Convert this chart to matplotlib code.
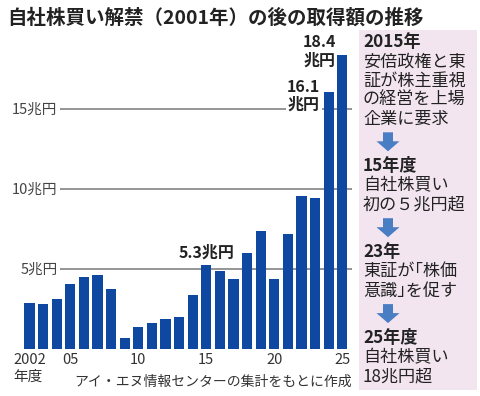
import matplotlib
matplotlib.use("Agg")
import matplotlib.pyplot as plt
from matplotlib.patches import Rectangle, Polygon

plt.rcParams['font.family'] = ['Noto Sans CJK JP', 'DejaVu Sans']

# data (兆円, fiscal years)
years = list(range(2002, 2026))
values = [2.88, 2.83, 3.13, 4.06, 4.54, 4.64, 3.75, 0.72, 1.37, 1.64, 1.88, 2.0,
          3.39, 5.3, 4.89, 4.41, 6.02, 7.39, 4.38, 7.22, 9.6, 9.44, 16.1, 18.4]
yticks = [5, 10, 15]
xticks = [2002, 2005, 2010, 2015, 2020, 2025]
xtick_labels = ['2002', '05', '10', '15', '20', '25']

title = '自社株買い解禁（2001年）の後の取得額の推移'
source = 'アイ・エヌ情報センターの集計をもとに作成'
notes = [
    ['2015年', '安倍政権と東', '証が株主重視', 'の経営を上場', '企業に要求'],
    ['15年度', '自社株買い', '初の５兆円超'],
    ['23年', '東証が｢株価', '意識｣を促す'],
    ['25年度', '自社株買い', '18兆円超'],
]

W, H = 480, 396
fig = plt.figure(figsize=(W / 100, H / 100), dpi=100)

def fx(px):
    return px / W

def fy(py):
    return 1 - py / H

bar_color = '#0f48a0'
grid_color = '#8c8c8c'
txt = '#222222'

# axes placed so that bar 2002 sits at px 29.5, step 13.6 px
step = 13.6
x0 = 29.5
ax = fig.add_axes([0, fy(349.3), fx(352), (349.3 - 30) / H])
ax.set_xlim(2002 - x0 / step, 2002 + (352 - x0) / step)
ax.set_ylim(0, (349.3 - 30) / 16)

def px2x(px):
    return 2002 + (px - x0) / step

ax.hlines(yticks, px2x(60), ax.get_xlim()[1], color=grid_color, lw=1.3, zorder=1)
for t in yticks:
    ax.text(px2x(57.5), t, f'{t}兆円', ha='right', va='center', fontsize=10.5,
            color='#444444')

ax.bar(years, values, width=0.74, color=bar_color, zorder=2)

for s in ax.spines.values():
    s.set_visible(False)
ax.set_yticks([])
ax.set_xticks(xticks)
ax.set_xticklabels(xtick_labels, fontsize=10.5, color='#333333')
ax.tick_params(axis='x', length=0, pad=3)

# value labels
lab_kw = dict(fontsize=11.5, fontweight='bold', color=txt, zorder=3)
i15 = years.index(2015)
ax.text(2015, values[i15] + 0.72, f'{values[i15]}兆円', ha='center', va='center', **lab_kw)

bb = dict(facecolor='white', edgecolor='none', pad=1.5)
i24 = years.index(2024)
ax.text(px2x(320), values[i24] + 0.3, f'{values[i24]}', ha='right', va='center', bbox=bb, **lab_kw)
ax.text(px2x(320), values[i24] - 0.83, '兆円', ha='right', va='center', bbox=bb, **lab_kw)
i25 = years.index(2025)
ax.text(px2x(336), values[i25] + 0.8, f'{values[i25]}', ha='right', va='center', **lab_kw)
ax.text(px2x(336), values[i25] - 0.35, '兆円', ha='right', va='center', **lab_kw)

# title, unit, source
fig.text(fx(7), fy(17.5), title, fontsize=14, fontweight='bold', color=txt,
         ha='left', va='center')
fig.text(fx(13), fy(377), '年度', fontsize=10.5, color='#333333', ha='left', va='center')
fig.text(fx(352), fy(381.5), source, fontsize=10, color='#333333', ha='right', va='center')

# right note panel
fig.patches.append(Rectangle((fx(359), fy(390)), fx(477) - fx(359), (390 - 30) / H,
                             transform=fig.transFigure, facecolor='#f2e5f0',
                             edgecolor='none', zorder=0))

arrow_color = '#4a7ec4'

def down_arrow(cx, cy):
    hw, sw, hl, h = 11.5, 5, 10, 19
    top, bot = cy - h / 2, cy + h / 2
    pts = [(cx - sw, top), (cx + sw, top), (cx + sw, bot - hl), (cx + hw, bot - hl),
           (cx, bot), (cx - hw, bot - hl), (cx - sw, bot - hl)]
    fig.patches.append(Polygon([(fx(a), fy(b)) for a, b in pts], closed=True,
                               transform=fig.transFigure, facecolor=arrow_color,
                               edgecolor='none', zorder=1))

y = 42
line_step = 19.2
for gi, group in enumerate(notes):
    for li, line in enumerate(group):
        fig.text(fx(363), fy(y), line, fontsize=12.3, color=txt, ha='left', va='center',
                 fontweight='bold' if li == 0 else 'normal')
        y += line_step
    if gi < len(notes) - 1:
        down_arrow(388, y - line_step + 23)
        y += 47.5 - line_step

fig.savefig('out.png', dpi=100)
